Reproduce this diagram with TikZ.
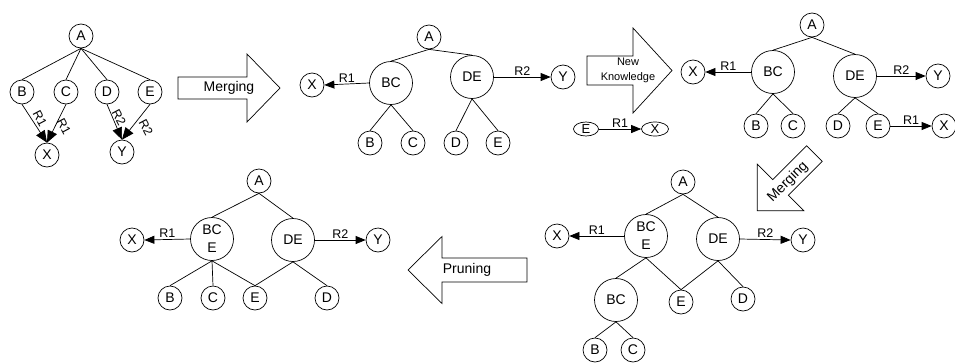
\documentclass[tikz,border=0pt]{standalone}
\usepackage{fontspec}
\setmainfont{Liberation Sans}
\usetikzlibrary{arrows.meta,shapes.geometric}
\tikzset{
  sn/.style={circle,draw,line width=0.7pt,minimum size=24pt,inner sep=0pt,font=\fontsize{14}{14}\selectfont},
  bn/.style={circle,draw,line width=0.7pt,minimum size=43pt,inner sep=0pt,align=center,font=\fontsize{14}{18}\selectfont},
  en/.style={ellipse,draw,line width=0.7pt,minimum width=25pt,minimum height=14pt,inner sep=0pt,font=\fontsize{13}{13}\selectfont},
  edge/.style={line width=0.7pt},
  arr/.style={line width=0.7pt,-{Triangle[length=10pt,width=8pt]}},
  barr/.style={line width=0.7pt,-{Triangle[length=12pt,width=10pt]}},
  lbl/.style={font=\fontsize{12.5}{12.5}\selectfont,inner sep=1.5pt},
  bigarrow/.style={draw,line width=0.7pt,fill=white},
  bigtxt/.style={font=\fontsize{14}{14}\selectfont,inner sep=0pt},
}
\begin{document}
\begin{tikzpicture}[x=1pt,y=-1pt]
\useasboundingbox (0,0) rectangle (955,362);

% ---------- panel 1 ----------
\node[sn] (p1A) at (81,36) {A};
\node[sn] (p1B) at (22,92) {B};
\node[sn] (p1C) at (66,92) {C};
\node[sn] (p1D) at (107,92) {D};
\node[sn] (p1E) at (150,92) {E};
\node[sn] (p1X) at (47,155) {X};
\node[sn] (p1Y) at (122,152) {Y};
\foreach \n in {B,C,D,E} \draw[edge] (p1A.south) -- (p1\n.north);
\draw[barr] (p1B.south) -- (p1X.north);
\draw[barr] (p1C.south) -- (p1X.north);
\draw[barr] (p1D.south) -- (p1Y.north);
\draw[barr] (p1E.south) -- (p1Y.north);
\node[lbl,rotate=-62] (p1l1) at (40,119) {R1};
\node[lbl,rotate=-62] (p1l2) at (64,127) {R1};
\node[lbl,rotate=-62] (p1l3) at (119,118) {R2};
\node[lbl,rotate=-62] (p1l4) at (146,128) {R2};

% ---------- Merging arrow 1 ----------
\draw[bigarrow] (178,77) -- (247,77) -- (247,54) -- (280,88) -- (247,122) -- (247,99) -- (178,99) -- cycle;
\node[bigtxt] (m1) at (229,88) {Merging};

% ---------- panel 2 ----------
\node[sn] (p2A) at (429,37) {A};
\node[bn] (p2BC) at (391,83) {BC};
\node[bn] (p2DE) at (472,77) {DE};
\node[sn] (p2X) at (312,85) {X};
\node[sn] (p2Y) at (563,77) {Y};
\node[sn] (p2B) at (370,143) {B};
\node[sn] (p2C) at (413,143) {C};
\node[sn] (p2D) at (456,143) {D};
\node[sn] (p2E) at (498,143) {E};
\draw[edge] (p2A.south) -- (p2BC.north);
\draw[edge] (p2A.south) -- (p2DE.north);
\draw[edge] (p2BC.south) -- (p2B.north);
\draw[edge] (p2BC.south) -- (p2C.north);
\draw[edge] (p2DE.south) -- (p2D.north);
\draw[edge] (p2DE.south) -- (p2E.north);
\draw[arr] (p2BC.west) -- node[lbl,above] (p2l1) {R1} (p2X.east);
\draw[arr] (p2DE.east) -- node[lbl,above] (p2l2) {R2} (p2Y.west);

% ---------- New Knowledge arrow ----------
\draw[bigarrow] (587,56) -- (633,56) -- (633,28) -- (672,70.5) -- (633,113) -- (633,85) -- (587,85) -- cycle;
\node[font=\fontsize{11}{14.5}\selectfont,align=center,inner sep=0pt] (nk) at (628,70.5) {New\\Knowledge};
\node[en] (eE) at (586,129) {E};
\node[en,minimum width=27pt] (eX) at (655,129) {X};
\draw[arr] (eE.east) -- node[lbl,above] (el) {R1} (eX.west);

% ---------- panel 3 ----------
\node[sn] (p3A) at (812,25) {A};
\node[bn] (p3BC) at (773,72) {BC};
\node[bn] (p3DE) at (855,76) {DE};
\node[sn] (p3X) at (693,72) {X};
\node[sn] (p3Y) at (938,76) {Y};
\node[sn] (p3B) at (756,126) {B};
\node[sn] (p3C) at (793,126) {C};
\node[sn] (p3D) at (838,126) {D};
\node[sn] (p3E) at (878,126) {E};
\node[sn] (p3X2) at (944,126) {X};
\draw[edge] (p3A.south) -- (p3BC.north);
\draw[edge] (p3A.south) -- (p3DE.north);
\draw[edge] (p3BC.south) -- (p3B.north);
\draw[edge] (p3BC.south) -- (p3C.north);
\draw[edge] (p3DE.south) -- (p3D.north);
\draw[edge] (p3DE.south) -- (p3E.north);
\draw[arr] (p3BC.west) -- node[lbl,above] (p3l1) {R1} (p3X.east);
\draw[arr] (p3DE.east) -- node[lbl,above] (p3l2) {R2} (p3Y.west);
\draw[arr] (p3E.east) -- node[lbl,above] (p3l3) {R1} (p3X2.west);

% ---------- diagonal Merging arrow ----------
\draw[bigarrow] (757.2,210.8) -- (803.8,210.8) -- (788.3,195.3) -- (822.2,161.4) -- (806.6,145.8) -- (772.7,179.7) -- (757.2,164.2) -- cycle;
\node[bigtxt,rotate=45] (m2) at (788,182) {Merging};

% ---------- panel 5 ----------
\node[sn] (p5A) at (683,182) {A};
\node[bn] (p5BCE) at (646,236) {BC\\E};
\node[bn] (p5DE) at (718,239) {DE};
\node[sn] (p5X) at (557,236) {X};
\node[sn] (p5Y) at (803,240) {Y};
\node[bn] (p5BC) at (616,300) {BC};
\node[sn] (p5E) at (681,302) {E};
\node[sn] (p5D) at (743,299) {D};
\node[sn] (p5B) at (595,350) {B};
\node[sn] (p5C) at (633,350) {C};
\draw[edge] (p5A.south) -- (p5BCE.north);
\draw[edge] (p5A.south) -- (p5DE.north);
\draw[edge] (p5BCE.south) -- (p5BC.north);
\draw[edge] (p5BCE.south) -- (p5E.north);
\draw[edge] (p5DE.south) -- (p5E.north);
\draw[edge] (p5DE.south) -- (p5D.north);
\draw[edge] (p5BC.south) -- (p5B.north);
\draw[edge] (p5BC.south) -- (p5C.north);
\draw[arr] (p5BCE.west) -- node[lbl,above] (p5l1) {R1} (p5X.east);
\draw[arr] (p5DE.east) -- node[lbl,above] (p5l2) {R2} (p5Y.west);

% ---------- Pruning arrow ----------
\draw[bigarrow] (527,258) -- (442,258) -- (442,236.5) -- (408,270) -- (442,303.5) -- (442,282) -- (527,282) -- cycle;
\node[bigtxt] (pr) at (467,270) {Pruning};

% ---------- panel 4 ----------
\node[sn] (p4A) at (259,181) {A};
\node[bn] (p4BCE) at (212,239) {BC\\E};
\node[bn] (p4DE) at (293,240) {DE};
\node[sn] (p4X) at (132,240) {X};
\node[sn] (p4Y) at (378,240) {Y};
\node[sn] (p4B) at (170,298) {B};
\node[sn] (p4C) at (213,298) {C};
\node[sn] (p4E) at (255,298) {E};
\node[sn] (p4D) at (327,298) {D};
\draw[edge] (p4A.south) -- (p4BCE.north);
\draw[edge] (p4A.south) -- (p4DE.north);
\draw[edge] (p4BCE.south) -- (p4B.north);
\draw[edge] (p4BCE.south) -- (p4C.north);
\draw[edge] (p4BCE.south) -- (p4E.north);
\draw[edge] (p4DE.south) -- (p4E.north);
\draw[edge] (p4DE.south) -- (p4D.north);
\draw[arr] (p4BCE.west) -- node[lbl,above] (p4l1) {R1} (p4X.east);
\draw[arr] (p4DE.east) -- node[lbl,above] (p4l2) {R2} (p4Y.west);
\end{tikzpicture}
\end{document}
